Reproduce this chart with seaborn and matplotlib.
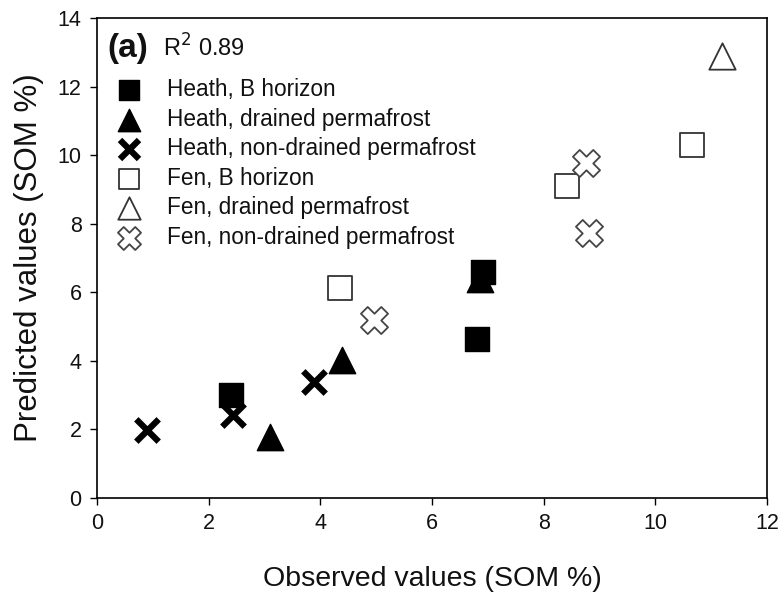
import matplotlib
matplotlib.use("Agg")
import matplotlib.pyplot as plt
import seaborn as sns
import pandas as pd

sns.set_theme(style="white")
plt.rcParams['font.family'] = ['Liberation Sans', 'DejaVu Sans']

groups = ["Heath, B horizon", "Heath, drained permafrost", "Heath, non-drained permafrost",
          "Fen, B horizon", "Fen, drained permafrost", "Fen, non-drained permafrost"]
heath_b_x = [2.40, 6.92, 6.80]
heath_b_y = [3.00, 6.60, 4.64]
heath_d_x = [3.10, 4.38, 6.86]
heath_d_y = [1.79, 4.02, 6.40]
heath_n_x = [0.89, 2.43, 3.89]
heath_n_y = [1.98, 2.42, 3.37]
fen_b_x = [4.35, 8.42, 10.66]
fen_b_y = [6.12, 9.11, 10.29]
fen_d_x = [11.19]
fen_d_y = [12.90]
fen_n_x = [8.75, 8.82, 4.96]
fen_n_y = [9.76, 7.72, 5.19]

xs = [heath_b_x, heath_d_x, heath_n_x, fen_b_x, fen_d_x, fen_n_x]
ys = [heath_b_y, heath_d_y, heath_n_y, fen_b_y, fen_d_y, fen_n_y]

styles = [
    dict(marker='s', s=300, color='black', edgecolor='black', linewidth=1),
    dict(marker='^', s=360, color='black', edgecolor='black', linewidth=1),
    dict(marker='x', s=260, color='black', linewidth=4.5),
    dict(marker='s', s=300, facecolor='white', edgecolor='#333333', linewidth=1.3),
    dict(marker='^', s=360, facecolor='white', edgecolor='#333333', linewidth=1.3),
    dict(marker='X', s=380, facecolor='white', edgecolor='#444444', linewidth=1.3),
]

fig = plt.figure(figsize=(7.82, 6.01), dpi=100)
ax = fig.add_axes([97/782, 1-498/601, 670/782, 480/601])

for g, x, y, st in zip(groups, xs, ys, styles):
    df = pd.DataFrame({'x': x, 'y': y})
    sns.scatterplot(data=df, x='x', y='y', ax=ax, label=g, zorder=3, **st)

ax.set_xlim(0, 12)
ax.set_ylim(0, 14)
ax.set_xticks(range(0, 13, 2))
ax.set_yticks(range(0, 15, 2))
ax.tick_params(axis='both', direction='out', length=5, width=1, labelsize=15.5, color='black',
               labelcolor='#111111', bottom=True, left=True, pad=6)
for sp in ax.spines.values():
    sp.set_color('black')
    sp.set_linewidth(1.2)
ax.set_xlabel("Observed values (SOM %)", fontsize=20.5, labelpad=23, color='#111111')
ax.set_ylabel("Predicted values (SOM %)", fontsize=22.5, labelpad=10, color='#111111')

ax.text(0.016, 0.937, "(a)", transform=ax.transAxes, fontsize=24, fontweight='bold',
        va='center', ha='left', color='#111111')
ax.text(0.098, 0.937, r"R$^2$ 0.89", transform=ax.transAxes, fontsize=17,
        va='center', ha='left', color='#111111')

leg = ax.legend(loc='upper left', bbox_to_anchor=(-0.003, 0.908), frameon=False,
                prop={'size': 16.3}, handlelength=1.6,
                handletextpad=0.9, labelspacing=0.29, markerscale=0.85, borderaxespad=0.3)
for t in leg.get_texts():
    t.set_color('#111111')

fig.savefig("out.png", dpi=100, facecolor='white')
